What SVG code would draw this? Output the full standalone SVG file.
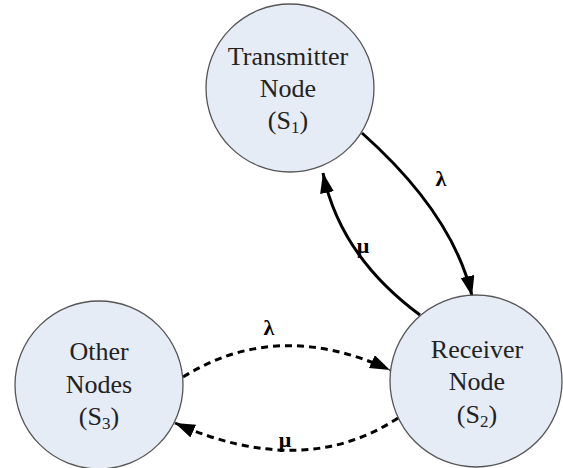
<svg xmlns="http://www.w3.org/2000/svg" width="563" height="468" viewBox="0 0 563 468">
  <style>
    .node circle { fill: #e6ecf6; stroke: #555; stroke-width: 1.3; }
    .node text { font-family: "Liberation Serif", "DejaVu Serif", serif; font-size: 26px; fill: #222; text-anchor: middle; }
    .node .sub { font-size: 17px; }
    .edge { fill: none; stroke: #000; stroke-width: 3; }
    .dash { stroke-dasharray: 7 5; }
    .lbl { font-family: "Liberation Serif", "DejaVu Serif", serif; font-size: 22px; font-weight: bold; fill: #000; text-anchor: middle; }
  </style>
  <defs>
    <marker id="arrow" markerUnits="userSpaceOnUse" markerWidth="22" markerHeight="16" refX="20" refY="7" orient="auto">
      <path d="M0,0 L20,7 L0,14 Z" fill="#000"/>
    </marker>
  </defs>
  <rect width="563" height="468" fill="#fff"/>

  <!-- transitions between the three states -->
  <g id="edges">
    <path class="edge" d="M362,133 Q453,214 472,296" marker-end="url(#arrow)"/>
    <path class="edge" d="M420,315 Q340,256 323,173" marker-end="url(#arrow)"/>
    <path class="edge dash" d="M183,377 Q278,318 390,370" marker-end="url(#arrow)"/>
    <path class="edge dash" d="M398,418 Q304,480 175,423" marker-end="url(#arrow)"/>
    <text class="lbl" x="441" y="186">λ</text>
    <text class="lbl" x="363" y="253">μ</text>
    <text class="lbl" x="269" y="335">λ</text>
    <text class="lbl" x="285" y="447">μ</text>
  </g>

  <g id="s1" class="node">
    <circle cx="290" cy="88" r="84"/>
    <text x="288" y="65">Transmitter</text>
    <text x="288" y="97">Node</text>
    <text x="288" y="129">(S<tspan class="sub" dy="4">1</tspan><tspan dy="-4">)</tspan></text>
  </g>

  <g id="s2" class="node">
    <circle cx="476" cy="381" r="86"/>
    <text x="477" y="358">Receiver</text>
    <text x="477" y="390">Node</text>
    <text x="477" y="423">(S<tspan class="sub" dy="4">2</tspan><tspan dy="-4">)</tspan></text>
  </g>

  <g id="s3" class="node">
    <circle cx="99" cy="385" r="84"/>
    <text x="99" y="360">Other</text>
    <text x="99" y="393">Nodes</text>
    <text x="99" y="425">(S<tspan class="sub" dy="4">3</tspan><tspan dy="-4">)</tspan></text>
  </g>
</svg>
